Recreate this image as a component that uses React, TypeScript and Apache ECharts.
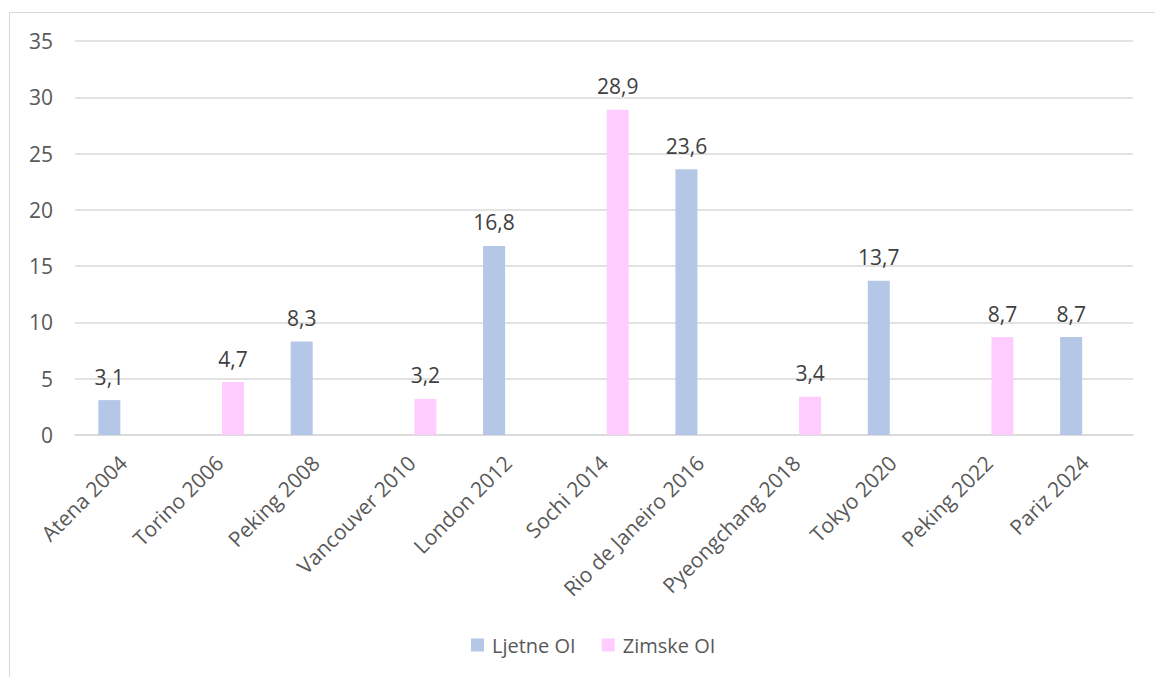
import React, { useEffect, useRef } from "react";
import * as echarts from "echarts";

const categories = [
  "Atena 2004",
  "Torino 2006",
  "Peking 2008",
  "Vancouver 2010",
  "London 2012",
  "Sochi 2014",
  "Rio de Janeiro 2016",
  "Pyeongchang 2018",
  "Tokyo 2020",
  "Peking 2022",
  "Pariz 2024",
];
const ljetne: (number | null)[] = [3.1, null, 8.3, null, 16.8, null, 23.6, null, 13.7, null, 8.7];
const zimske: (number | null)[] = [null, 4.7, null, 3.2, null, 28.9, null, 3.4, null, 8.7, null];
const seriesNames = ["Ljetne OI", "Zimske OI"];

const FONT = "'Open Sans', 'Liberation Sans', sans-serif";

export default function App() {
  const ref = useRef<HTMLDivElement>(null);
  useEffect(() => {
    if (!ref.current) return;
    const chart = echarts.init(ref.current, undefined, { renderer: "svg" });
    const label = {
      show: true,
      position: "top",
      distance: 13,
      color: "#404040",
      fontSize: 21,
      fontFamily: FONT,
      formatter: (p: any) => String(p.value).replace(".", ","),
    };
    chart.setOption({
      animation: false,
      backgroundColor: "#ffffff",
      textStyle: { fontFamily: FONT },
      graphic: [
        {
          type: "rect",
          shape: { x: 9.5, y: 12.5, width: 1300, height: 800 },
          style: { fill: "none", stroke: "#d9d9d9", lineWidth: 1 },
          silent: true,
          z: -1,
        },
      ],
      grid: { left: 75, right: 22, top: 41, bottom: 242, containLabel: false },
      legend: {
        bottom: 17,
        left: 466,
        itemWidth: 13,
        itemHeight: 13,
        itemGap: 26,
        icon: "rect",
        textStyle: { color: "#595959", fontSize: 20, fontFamily: FONT, padding: [0, 0, 0, 3] },
        data: seriesNames,
      },
      xAxis: {
        type: "category",
        data: categories,
        axisLine: { lineStyle: { color: "#d9d9d9", width: 1.5 } },
        axisTick: { show: false },
        axisLabel: {
          rotate: 45,
          interval: 0,
          color: "#595959",
          fontSize: 21,
          fontFamily: FONT,
          margin: 24,
        },
      },
      yAxis: {
        type: "value",
        min: 0,
        max: 35,
        interval: 5,
        axisLine: { show: false },
        axisTick: { show: false },
        axisLabel: { color: "#595959", fontSize: 21, fontFamily: FONT, margin: 22 },
        splitLine: { lineStyle: { color: "#d9d9d9", width: 1.5 } },
      },
      series: [
        {
          name: seriesNames[0],
          type: "bar",
          data: ljetne,
          barWidth: 22,
          barGap: "25%",
          itemStyle: { color: "#b4c7e7" },
          label,
        },
        {
          name: seriesNames[1],
          type: "bar",
          data: zimske,
          barWidth: 22,
          barGap: "25%",
          itemStyle: { color: "#ffccff" },
          label,
        },
      ],
    });
    return () => chart.dispose();
  }, []);
  return (
    <div
      ref={ref}
      style={{ position: "absolute", left: 0, top: 0, width: 1155, height: 677 }}
    />
  );
}
